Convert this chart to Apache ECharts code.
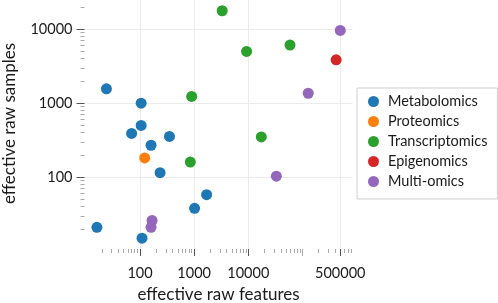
<!DOCTYPE html>
<html>
<head>
<meta charset="utf-8">
<script src="https://cdn.jsdelivr.net/npm/echarts@6/dist/echarts.min.js"></script>
<style>
  html, body { margin: 0; padding: 0; background: #fff; }
  #chart { width: 498px; height: 303px; }
</style>
</head>
<body>
<div id="chart"></div>
<script>
// data (log-log scatter)
var categories = ['Metabolomics', 'Proteomics', 'Transcriptomics', 'Epigenomics', 'Multi-omics'];
var colors = ['#1f77b4', '#ff7f0e', '#2ca02c', '#d62728', '#9467bd'];

var metabolomicsFeatures = [24, 105, 105, 70, 350, 160, 235, 1700, 1020, 16, 109];
var metabolomicsSamples  = [1560, 1000, 500, 390, 355, 270, 115, 58, 38, 21, 15];
var proteomicsFeatures = [122];
var proteomicsSamples  = [182];
var transcriptomicsFeatures = [3300, 9300, 59000, 900, 850, 17400];
var transcriptomicsSamples  = [17700, 5000, 6100, 1230, 160, 350];
var epigenomicsFeatures = [420000];
var epigenomicsSamples  = [3850];
var multiomicsFeatures = [500000, 128000, 33000, 167, 160];
var multiomicsSamples  = [9600, 1360, 103, 26, 21];

var xTickLabels = [100, 1000, 10000, 500000];
var xExtraTicks = [100000];
var yTickLabels = [100, 1000, 10000];

var xMin = Math.pow(10, 0.975), xMax = Math.pow(10, 5.925);
var yMin = Math.pow(10, 1.03), yMax = Math.pow(10, 4.42);

function minorTicks(lo, hi) {
  var out = [];
  for (var d = 1; d <= 6; d++) {
    for (var m = 2; m <= 9; m++) {
      var v = m * Math.pow(10, d);
      if (v > lo && v < hi) out.push(v);
    }
  }
  return out;
}

function pairs(xs, ys) {
  return xs.map(function (x, i) { return [x, ys[i]]; });
}

var seriesData = [
  pairs(metabolomicsFeatures, metabolomicsSamples),
  pairs(proteomicsFeatures, proteomicsSamples),
  pairs(transcriptomicsFeatures, transcriptomicsSamples),
  pairs(epigenomicsFeatures, epigenomicsSamples),
  pairs(multiomicsFeatures, multiomicsSamples)
];

var font = 'Lato';
var textColor = '#1a1a1a';
var chart = echarts.init(document.getElementById('chart'), null, {renderer: 'canvas'});

function hiddenAxis(pos, min, max, ticks, len, color) {
  return {
    type: 'log', logBase: 10, min: min, max: max, position: pos, offset: 0,
    axisLine: {show: false},
    axisLabel: {show: false},
    splitLine: {show: false},
    axisTick: {show: true, inside: false, length: len, customValues: ticks,
               lineStyle: {color: color, width: 1}}
  };
}

var option = {
  animation: false,
  color: colors,
  grid: {left: 84.5, right: 145.5, top: -2, bottom: 54, containLabel: false, outerBoundsMode: 'none'},
  legend: {
    data: categories,
    orient: 'vertical',
    left: 357, top: 88,
    icon: 'circle',
    itemWidth: 11, itemHeight: 11, itemGap: 5,
    padding: [6, 10, 10, 11],
    borderColor: '#cfcfcf', borderWidth: 1,
    textStyle: {fontFamily: font, fontSize: 14.5, color: textColor, padding: [0, 0, 0, 4]}
  },
  xAxis: [
    {
      type: 'log', logBase: 10, min: xMin, max: xMax, position: 'bottom',
      name: 'effective raw features', nameLocation: 'middle', nameGap: 34,
      nameTextStyle: {fontFamily: font, fontSize: 17, color: textColor},
      axisLine: {show: false},
      axisTick: {show: true, length: 7, customValues: xTickLabels, lineStyle: {color: '#555'}},
      axisLabel: {fontFamily: font, fontSize: 14.5, color: textColor, margin: 17, customValues: xTickLabels,
                  formatter: function (v) { return String(Math.round(v)); }},
      splitLine: {show: true, lineStyle: {color: '#ececec', width: 1}}
    },
    hiddenAxis('bottom', xMin, xMax, minorTicks(xMin, xMax).filter(function (v) {
      return xTickLabels.indexOf(v) < 0 && xExtraTicks.indexOf(v) < 0;
    }), 4, '#aaa'),
    hiddenAxis('bottom', xMin, xMax, xExtraTicks, 7, '#aaa')
  ],
  yAxis: [
    {
      type: 'log', logBase: 10, min: yMin, max: yMax, position: 'left',
      name: 'effective raw samples', nameLocation: 'middle', nameGap: 66,
      nameTextStyle: {fontFamily: font, fontSize: 17, color: textColor},
      axisLine: {show: false},
      axisTick: {show: true, length: 8, customValues: yTickLabels, lineStyle: {color: '#555'}},
      axisLabel: {fontFamily: font, fontSize: 14.5, color: textColor, margin: 12, customValues: yTickLabels,
                  formatter: function (v) { return String(Math.round(v)); }},
      splitLine: {show: true, lineStyle: {color: '#ececec', width: 1}}
    },
    hiddenAxis('left', yMin, yMax, minorTicks(yMin, yMax), 4, '#aaa')
  ],
  series: categories.map(function (name, i) {
    return {
      name: name, type: 'scatter', xAxisIndex: 0, yAxisIndex: 0,
      symbol: 'circle', symbolSize: 11,
      itemStyle: {color: colors[i], opacity: 1},
      data: seriesData[i]
    };
  })
};

chart.setOption(option);
</script>
</body>
</html>
